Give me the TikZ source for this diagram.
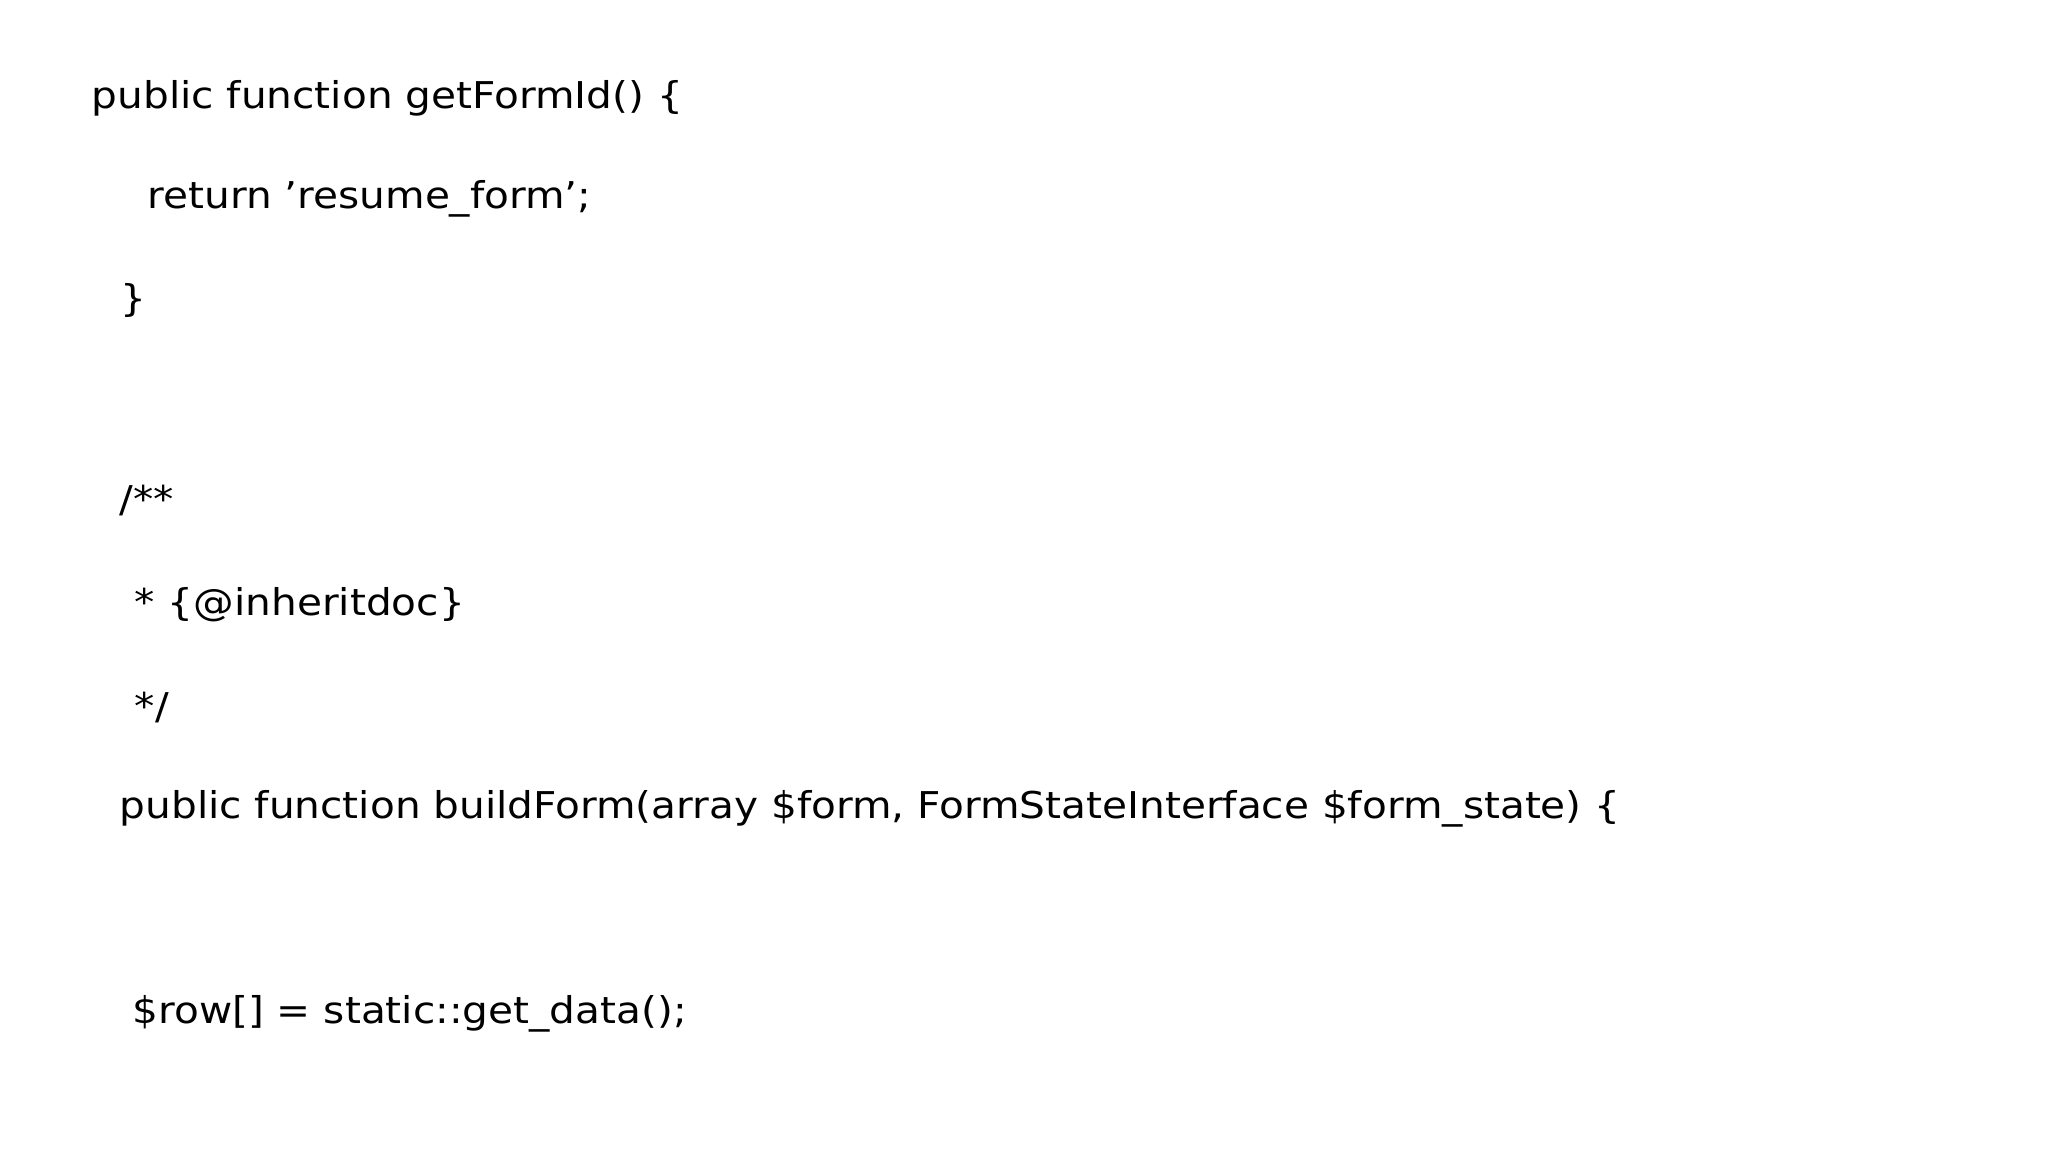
\documentclass[tikz,border=0pt]{standalone}
\usepackage{fontspec}
\setmainfont[FakeStretch=1.1]{DejaVu Sans}
\begin{document}
\begin{tikzpicture}[x=0.01cm,y=-0.01cm,code/.style={anchor=base west,inner sep=0pt,font=\fontsize{10.5}{12}\selectfont}]
\useasboundingbox[fill=white] (0,0) rectangle (2048,1152);
\node[code] (l1) at (91,109) {public function getFormId() \{};
\node[code] (l2) at (147,209) {return \symbol{39}resume\_form\symbol{39};};
\node[code] (l3) at (120,312) {\}};
\node[code] (l4) at (119,513) {/**};
\node[code] (l5) at (134,616) {* \{@inheritdoc\}};
\node[code] (l6) at (134,719) {*/};
\node[code] (l7) at (119,818) {public function buildForm(array \$form, FormStateInterface \$form\_state) \{};
\node[code] (l8) at (132,1023) {\$row[] = static::get\_data();};
\end{tikzpicture}
\end{document}
